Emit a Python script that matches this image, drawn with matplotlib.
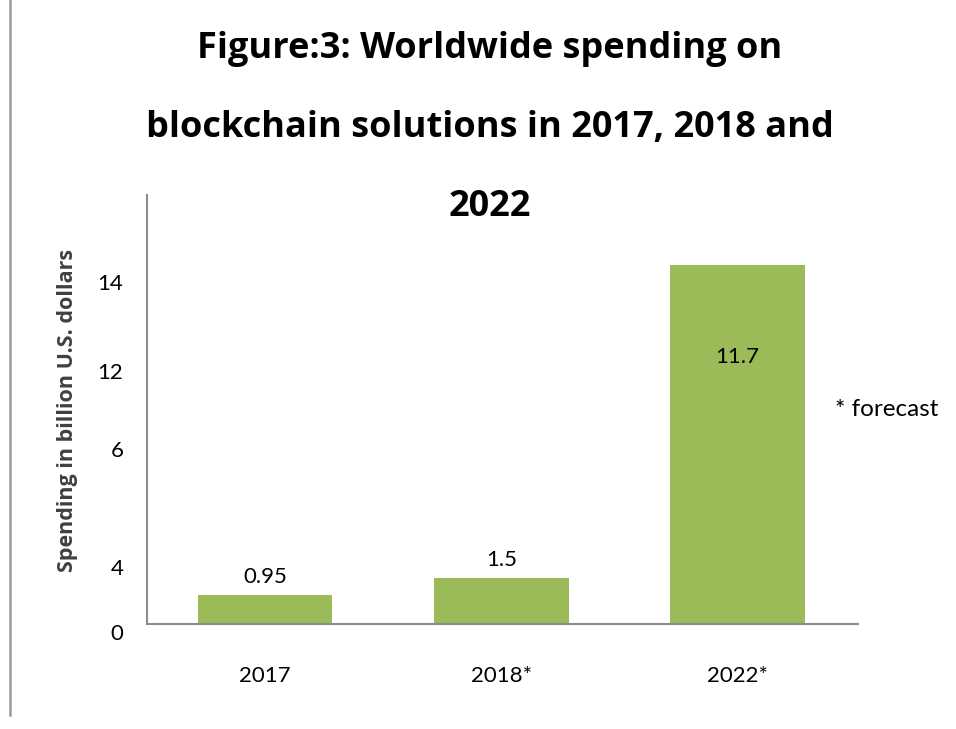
import matplotlib
matplotlib.use("Agg")
import matplotlib.pyplot as plt
from matplotlib.lines import Line2D

categories = ["2017", "2018*", "2022*"]
values = [0.95, 1.5, 11.7]
value_labels = ["0.95", "1.5", "11.7"]
ytick_positions = [-0.26, 1.86, 5.71, 8.26, 11.16]
ytick_labels = ["0", "4", "6", "12", "14"]

W, H = 956, 729
fig = plt.figure(figsize=(W / 100, H / 100), dpi=100)
ymin, ymax = -0.4, 14
px_per = (624 - 195) / 14.0
bottom_px = 624 + (0 - ymin) * px_per
ax = fig.add_axes([147 / W, (H - bottom_px) / H, (858 - 147) / W, (bottom_px - 195) / H])

bar_color = "#9BBB59"
spine_color = "#8C8C8C"
fs = 16
x = list(range(len(categories)))
bars = ax.bar(x, values, width=0.57, color=bar_color, zorder=2)
ax.set_xlim(-0.5, 2.51)
ax.set_ylim(ymin, ymax)

for s in ["top", "right"]:
    ax.spines[s].set_visible(False)
ax.spines["bottom"].set_position(("data", 0))
ax.spines["left"].set_bounds(0, ymax)
for s in ["bottom", "left"]:
    ax.spines[s].set_color(spine_color)
    ax.spines[s].set_linewidth(1.5)

ax.set_xticks(x)
ax.set_xticklabels(categories, fontsize=fs, family="Lato")
ax.tick_params(axis="x", length=0, pad=30)
ax.set_yticks(ytick_positions)
ax.set_yticklabels(ytick_labels, fontsize=fs, family="Lato")
ax.tick_params(axis="y", length=0, pad=17)

# data labels
for i, (v, lab) in enumerate(zip(values, value_labels)):
    if i < 2:
        ax.annotate(lab, (i, v), xytext=(0, 6), textcoords="offset points",
                    ha="center", va="bottom", fontsize=fs, family="Lato")
    else:
        ax.text(i, v * 0.745, lab, ha="center", va="center", fontsize=fs, family="Lato")

fig.text(68 / W, 1 - 410 / H, "Spending in billion U.S. dollars", rotation=90,
         ha="center", va="center", fontsize=15.5, fontweight="bold", color="#404040",
         family="Open Sans")

fig.text(887 / W, 1 - 410 / H, "* forecast", ha="center", va="center",
         fontsize=17.5, family="Lato")

fig.text(490 / W, 1 - 128 / H,
         "Figure:3: Worldwide spending on\nblockchain solutions in 2017, 2018 and\n2022",
         ha="center", va="center", fontsize=26, fontweight="bold",
         family="Open Sans", linespacing=2.6)

fig.add_artist(Line2D([10 / W, 10 / W], [1, 1 - 715 / H], transform=fig.transFigure,
                      color="#9A9A9A", linewidth=1.8))

fig.savefig("out.png", dpi=100, facecolor="white")
